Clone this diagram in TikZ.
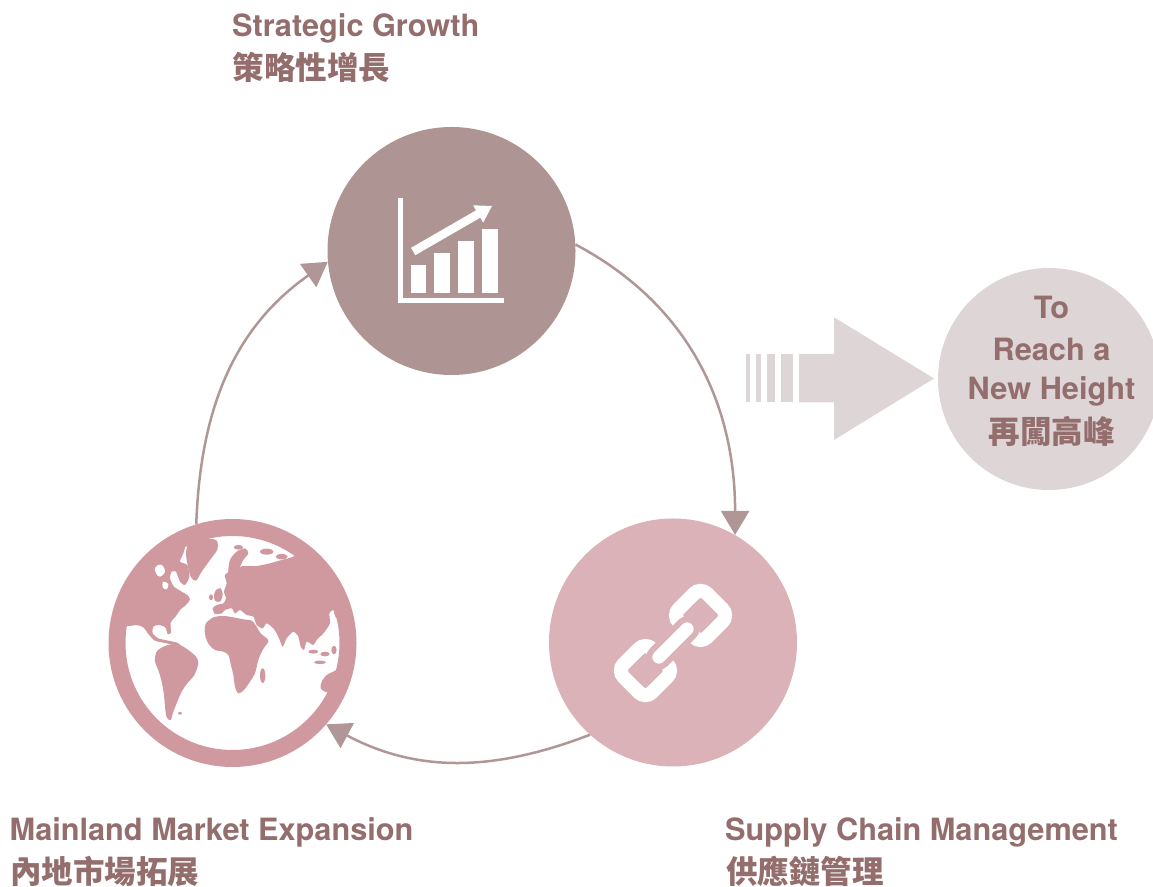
\documentclass[tikz,border=0pt]{standalone}
\usepackage{fontspec}
\setmainfont{TeX Gyre Heros}
\newfontfamily\cjk{Noto Sans CJK TC}
\usetikzlibrary{arrows.meta}
\definecolor{cTop}{RGB}{174,148,146}
\definecolor{cSupply}{RGB}{218,178,184}
\definecolor{cGlobe}{RGB}{208,153,159}
\definecolor{cGoal}{RGB}{221,213,214}
\definecolor{cText}{RGB}{148,109,109}
\definecolor{cArc}{RGB}{176,150,150}
\tikzset{
  bigdisc/.style={circle, inner sep=0pt, minimum size=248pt},
  entext/.style={font=\fontsize{30.7}{36}\selectfont\bfseries, text=cText, inner sep=0pt},
  zhtext/.style={font=\fontsize{31.5}{36}\selectfont\cjk\bfseries, text=cText, inner sep=0pt},
  cycarrow/.style={draw=cArc, line width=2.5pt, -{Triangle[length=24pt,width=28pt]}},
  land/.style={fill=cGlobe},
}
\begin{document}
\begin{tikzpicture}[x=1pt,y=1pt]
\useasboundingbox (0,0) rectangle (1153,886);

% main discs
\node[bigdisc, fill=cTop] (growth) at (451.5,635) {};
\node[bigdisc, fill=cSupply] (supply) at (673,243.5) {};
\node[circle, inner sep=0pt, minimum size=231pt, draw=cGlobe, line width=17pt, fill=white] (globe) at (232.5,243) {};
\node[circle, inner sep=0pt, minimum size=222pt, fill=cGoal] (goal) at (1049,507) {};

% chart icon
\fill[white] (397.7,582.7) rectangle (402.7,688.3);
\fill[white] (397.7,582.7) rectangle (504.3,588.3);
\fill[white] (410.7,592.7) rectangle (426,621);
\fill[white] (434,592.7) rectangle (450,632.7);
\fill[white] (458.3,592.7) rectangle (474,645);
\fill[white] (482.3,592.7) rectangle (497.7,656.7);
\draw[white, line width=8.5pt] (413.2,634.5) -- (479.9,673);
\fill[white] (483.15,663.34) -- (492,680) -- (473.15,680.66) -- cycle;

% chain icon
\begin{scope}[shift={(673,243)}, rotate=45]
  \draw[white, line width=14pt, rounded corners=9pt] (19,-20) rectangle (59,20);
  \draw[white, line width=14pt, rounded corners=9pt] (-59,-20) rectangle (-19,20);
  \draw[cSupply, line width=25pt, line cap=round] (-20,0) -- (20,0);
  \draw[white, line width=13pt, line cap=round] (-20,0) -- (20,0);
\end{scope}

% globe continents
\begin{scope}
  \clip (globe.center) circle[radius=108];
  \begin{scope}[shift={(100,376)}, xscale=1/3, yscale=-1/3]
    % Greenland
    \fill[land] plot[smooth cycle, tension=0.5] coordinates {(268,100) (300,85) (348,90) (352,118) (330,150) (305,185) (288,212) (272,200) (262,160) (258,125)};
    % North America
    \fill[land] plot[smooth cycle, tension=0.4] coordinates {(40,340) (40,100) (240,50) (258,95) (250,130) (240,155) (262,165) (268,200) (255,225) (240,215) (228,185) (215,185) (210,205) (222,230) (245,245) (262,255) (270,268) (258,285) (240,300) (228,318) (212,338) (213,368) (203,372) (196,352) (176,345) (160,350) (158,370) (175,385) (205,392) (232,398) (240,405) (228,408) (200,400) (165,392) (145,372) (130,352) (110,345) (85,348)};
    \fill[white] plot[smooth cycle, tension=0.6] coordinates {(165,170) (185,165) (195,185) (180,200) (168,190)};
    \fill[white] plot[smooth cycle, tension=0.6] coordinates {(190,215) (205,222) (200,238) (188,232)};
    % South America
    \fill[land] plot[smooth cycle, tension=0.5] coordinates {(232,402) (262,418) (288,440) (295,460) (283,495) (262,520) (245,545) (232,575) (220,605) (212,630) (200,622) (195,590) (192,555) (185,515) (175,480) (165,455) (170,425) (195,408)};
    \fill[land] (240,610) ellipse [x radius=6, y radius=4];
    % UK and Ireland
    \fill[land] plot[smooth cycle, tension=0.5] coordinates {(348,240) (362,235) (368,255) (360,275) (345,272) (342,255)};
    \fill[land] (333,262) ellipse [x radius=6, y radius=9];
    % Scandinavia
    \fill[land] plot[smooth cycle, tension=0.5] coordinates {(385,190) (390,150) (410,125) (435,115) (445,130) (430,150) (415,180) (400,200)};
    % Arctic islands
    \fill[land] (500,125) ellipse [x radius=20, y radius=9];
    \fill[land] (545,140) ellipse [x radius=18, y radius=8];
    \fill[land] (415,112) ellipse [x radius=14, y radius=7];
    % Eurasia
    \fill[land] plot[smooth cycle, tension=0.4] coordinates {(375,195) (400,178) (430,168) (470,168) (510,160) (545,150) (580,140) (620,120) (760,150) (760,330) (710,325) (700,300) (688,310) (690,340) (672,368) (650,390) (640,405) (620,395) (612,420) (602,410) (595,380) (580,365) (560,385) (548,410) (535,380) (520,355) (500,340) (488,355) (470,345) (460,320) (440,315) (420,300) (405,310) (395,295) (375,300) (365,310) (345,312) (338,295) (350,285) (370,280) (378,265) (372,245) (380,220)};
    % Africa
    \fill[land] plot[smooth cycle, tension=0.5] coordinates {(318,340) (340,322) (370,318) (400,322) (430,328) (455,332) (470,350) (482,370) (500,385) (505,395) (488,420) (475,450) (465,490) (450,515) (432,540) (415,550) (405,530) (400,495) (392,462) (385,435) (370,425) (345,420) (328,405) (318,385) (314,360)};
    \fill[land] (488,497) ellipse [x radius=8, y radius=22];
    % Indonesia
    \fill[land] (640,425) ellipse [x radius=15, y radius=6];
    \fill[land] (675,432) ellipse [x radius=14, y radius=7];
    \fill[land] (660,457) ellipse [x radius=18, y radius=5];
    \fill[land] (702,420) ellipse [x radius=8, y radius=13];
    % Australia
    \fill[land] plot[smooth cycle, tension=0.5] coordinates {(665,515) (680,495) (700,485) (720,475) (740,480) (745,560) (715,560) (695,550) (675,545) (662,535)};
  \end{scope}
\end{scope}

% striped arrow
\fill[cGoal] (746,483.5) rectangle (750.3,532);
\fill[cGoal] (755.7,483.5) rectangle (761,532);
\fill[cGoal] (766.7,483.5) rectangle (775.3,532);
\fill[cGoal] (781,483.5) rectangle (793.3,532);
\fill[cGoal] (799,483.5) -- (834,483.5) -- (834,446) -- (934,507.5) -- (834,568.7) -- (834,532) -- (799,532) -- cycle;

% cycle arrows
\draw[cycarrow] (growth.3) to[out=-28,in=90] (supply.60);
\draw[cycarrow] (supply.228) to[out=201,in=-28] (globe.-41);
\draw[cycarrow] (globe.107) to[out=88,in=215] (growth.185);

% labels
\node[entext, anchor=base west] (sgEn) at (232,849.3) {Strategic Growth};
\node[zhtext, anchor=base west] (sgZh) at (232.5,806.5) {策略性增長};
\node[entext, anchor=base west] (mmEn) at (9.5,45.5) {Mainland Market Expansion};
\node[zhtext, anchor=base west] (mmZh) at (10,3) {內地市場拓展};
\node[entext, anchor=base west] (scEn) at (725,45.5) {Supply Chain Management};
\node[zhtext, anchor=base west] (scZh) at (726,3) {供應鏈管理};

\node[entext, anchor=base] (gl1) at (1051.5,567) {To};
\node[entext, anchor=base] (gl2) at (1051.5,525.5) {Reach a};
\node[entext, anchor=base] (gl3) at (1051.5,486) {New Height};
\node[zhtext, anchor=base] (gl4) at (1051.5,442) {再闖高峰};
\end{tikzpicture}
\end{document}
